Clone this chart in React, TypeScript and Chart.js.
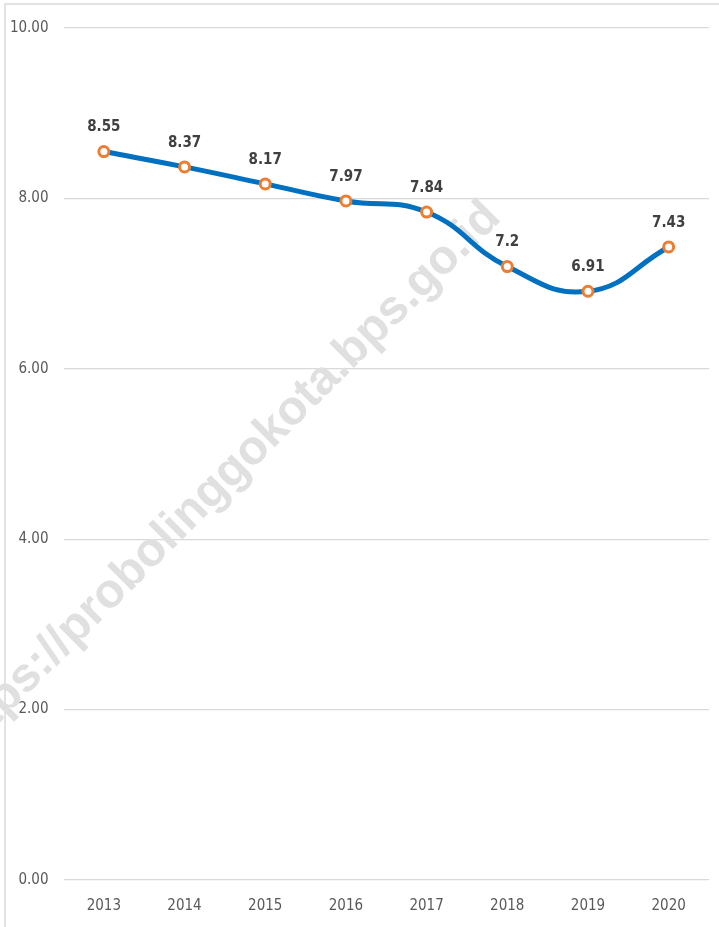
import React, { useEffect, useRef } from "react";
import { Chart, registerables } from "chart.js";

Chart.register(...registerables);

const years = ["2013", "2014", "2015", "2016", "2017", "2018", "2019", "2020"];
const values = [8.55, 8.37, 8.17, 7.97, 7.84, 7.2, 6.91, 7.43];
const valueLabels = ["8.55", "8.37", "8.17", "7.97", "7.84", "7.2", "6.91", "7.43"];
const watermarkText = "https://probolinggokota.bps.go.id";

const FONT = '"Liberation Sans Narrow", "DejaVu Sans Condensed", "Roboto Condensed", sans-serif';

export default function App() {
  const ref = useRef<HTMLCanvasElement | null>(null);

  useEffect(() => {
    if (!ref.current) return;

    const framePlugin = {
      id: "frame",
      beforeDraw(chart: any) {
        const ctx = chart.ctx;
        ctx.save();
        ctx.fillStyle = "#ffffff";
        ctx.fillRect(0, 0, chart.width, chart.height);
        ctx.strokeStyle = "#d9d9d9";
        ctx.lineWidth = 1.5;
        ctx.beginPath();
        ctx.moveTo(5, chart.height + 5);
        ctx.lineTo(5, 4);
        ctx.lineTo(chart.width + 5, 4);
        ctx.stroke();
        ctx.restore();
      },
    };

    const watermarkPlugin = {
      id: "watermark",
      beforeDatasetsDraw(chart: any) {
        const ctx = chart.ctx;
        ctx.save();
        ctx.translate(222, 480);
        ctx.rotate((-45 * Math.PI) / 180);
        ctx.font = 'bold 48px "Liberation Sans", Arial, sans-serif';
        ctx.fillStyle = "#e0e0e0";
        ctx.textAlign = "center";
        ctx.textBaseline = "alphabetic";
        ctx.fillText(watermarkText, 0, 14);
        ctx.restore();
      },
    };

    const labelPlugin = {
      id: "valueLabels",
      afterDatasetsDraw(chart: any) {
        const ctx = chart.ctx;
        const meta = chart.getDatasetMeta(0);
        ctx.save();
        ctx.font = "bold 15px " + FONT;
        ctx.fillStyle = "#404040";
        ctx.textAlign = "center";
        ctx.textBaseline = "middle";
        meta.data.forEach((pt: any, i: number) => {
          ctx.fillText(valueLabels[i], pt.x, pt.y - 24);
        });
        ctx.restore();
      },
    };

    const chart = new Chart(ref.current, {
      type: "line",
      data: {
        labels: years,
        datasets: [
          {
            data: values,
            borderColor: "#0070C0",
            borderWidth: 5,
            tension: 0.45,
            pointRadius: 5,
            pointBorderWidth: 3,
            pointBorderColor: "#ED7D31",
            pointBackgroundColor: "#ffffff",
            fill: false,
          },
        ],
      },
      options: {
        responsive: false,
        animation: false,
        layout: { padding: { top: 28, right: 10, left: 0, bottom: 0 } },
        plugins: {
          legend: { display: false },
          tooltip: { enabled: false },
        },
        scales: {
          x: {
            offset: true,
            grid: { display: false, drawTicks: false },
            border: { display: false },
            ticks: {
              color: "#595959",
              font: { family: FONT, size: 15 },
              padding: 17,
              maxRotation: 0,
            },
            afterFit(scale: any) {
              scale.height = 47;
            },
          },
          y: {
            min: 0,
            max: 10,
            grid: { color: "#d9d9d9", lineWidth: 1.3, drawTicks: false },
            border: { display: false },
            ticks: {
              stepSize: 2,
              color: "#595959",
              font: { family: FONT, size: 15 },
              padding: 15,
              callback: (v: any) => Number(v).toFixed(2),
            },
            afterFit(scale: any) {
              scale.width = 63.5;
            },
          },
        },
      },
      plugins: [framePlugin, watermarkPlugin, labelPlugin],
    });

    return () => chart.destroy();
  }, []);

  return (
    <div style={{ position: "absolute", left: 0, top: 0, width: 719, height: 927 }}>
      <canvas ref={ref} width={719} height={927} style={{ display: "block" }} />
    </div>
  );
}
